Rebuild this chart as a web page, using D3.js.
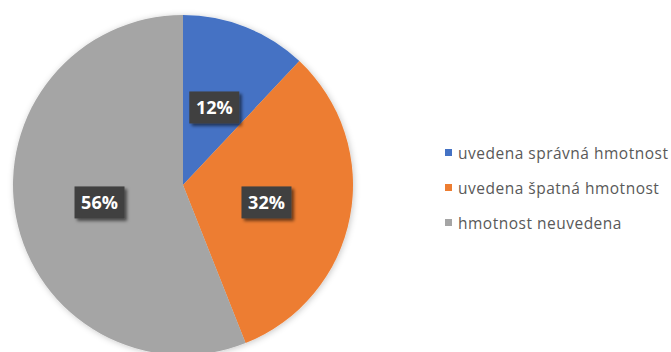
<!DOCTYPE html>
<html>
<head>
<meta charset="utf-8">
<script src="https://cdn.jsdelivr.net/npm/d3@7"></script>
<style>
  html, body { margin: 0; padding: 0; background: #ffffff; }
  svg { display: block; }
</style>
</head>
<body>
<svg id="chart" width="671" height="352"></svg>
<script>
// Share of records by how the weight is stated
const categories = ["uvedena správná hmotnost", "uvedena špatná hmotnost", "hmotnost neuvedena"];
const shares = [12, 32, 56];
const colors = ["#4472C4", "#ED7D31", "#A5A5A5"];
const valueLabels = ["12%", "32%", "56%"];

const svg = d3.select("#chart");
const cx = 183, cy = 185, radius = 170;

const defs = svg.append("defs");
const pieShadow = defs.append("filter").attr("id", "pieShadow")
  .attr("x", "-10%").attr("y", "-10%").attr("width", "120%").attr("height", "120%");
pieShadow.append("feDropShadow").attr("dx", 1).attr("dy", 1)
  .attr("stdDeviation", 3).attr("flood-color", "#000").attr("flood-opacity", 0.22);

const boxShadow = defs.append("filter").attr("id", "boxShadow")
  .attr("x", "-30%").attr("y", "-30%").attr("width", "170%").attr("height", "170%");
boxShadow.append("feDropShadow").attr("dx", 2.5).attr("dy", 2.5)
  .attr("stdDeviation", 1.8).attr("flood-color", "#000").attr("flood-opacity", 0.55);

const data = categories.map((c, i) => ({ name: c, value: shares[i], color: colors[i], label: valueLabels[i] }));

const pie = d3.pie().value(d => d.value).sort(null);
const arcs = pie(data);
const arc = d3.arc().innerRadius(0).outerRadius(radius);

const g = svg.append("g").attr("transform", `translate(${cx},${cy})`);

g.append("g").attr("filter", "url(#pieShadow)")
  .selectAll("path")
  .data(arcs)
  .join("path")
  .attr("d", arc)
  .attr("fill", d => d.data.color);

// Value labels: dark boxes at the slice centroids
const labelGroups = g.selectAll("g.lbl")
  .data(arcs)
  .join("g")
  .attr("class", "lbl")
  .attr("transform", d => {
    const [x, y] = arc.centroid(d);
    return `translate(${x},${y + 1.5})`;
  });

labelGroups.append("rect")
  .attr("x", -25).attr("y", -16)
  .attr("width", 50).attr("height", 32)
  .attr("fill", "#404040")
  .attr("filter", "url(#boxShadow)");

labelGroups.append("text")
  .attr("text-anchor", "middle")
  .attr("dy", "0.36em")
  .attr("fill", "#ffffff")
  .style("font-family", "'Open Sans', sans-serif")
  .style("font-weight", "700")
  .style("font-size", "18px")
  .text(d => d.data.label);

// Legend
const legendX = 445, legendY = 152.5, rowGap = 35;
const legend = svg.append("g");
const rows = legend.selectAll("g")
  .data(data)
  .join("g")
  .attr("transform", (d, i) => `translate(${legendX},${legendY + i * rowGap})`);

rows.append("rect")
  .attr("x", 0).attr("y", -3.5)
  .attr("width", 7).attr("height", 7)
  .attr("fill", d => d.color);

rows.append("text")
  .attr("x", 13).attr("y", 6)
  .attr("fill", "#595959")
  .style("font-family", "'Open Sans', sans-serif")
  .style("font-size", "15.5px")
  .style("letter-spacing", "0.5px")
  .text(d => d.name);
</script>
</body>
</html>
